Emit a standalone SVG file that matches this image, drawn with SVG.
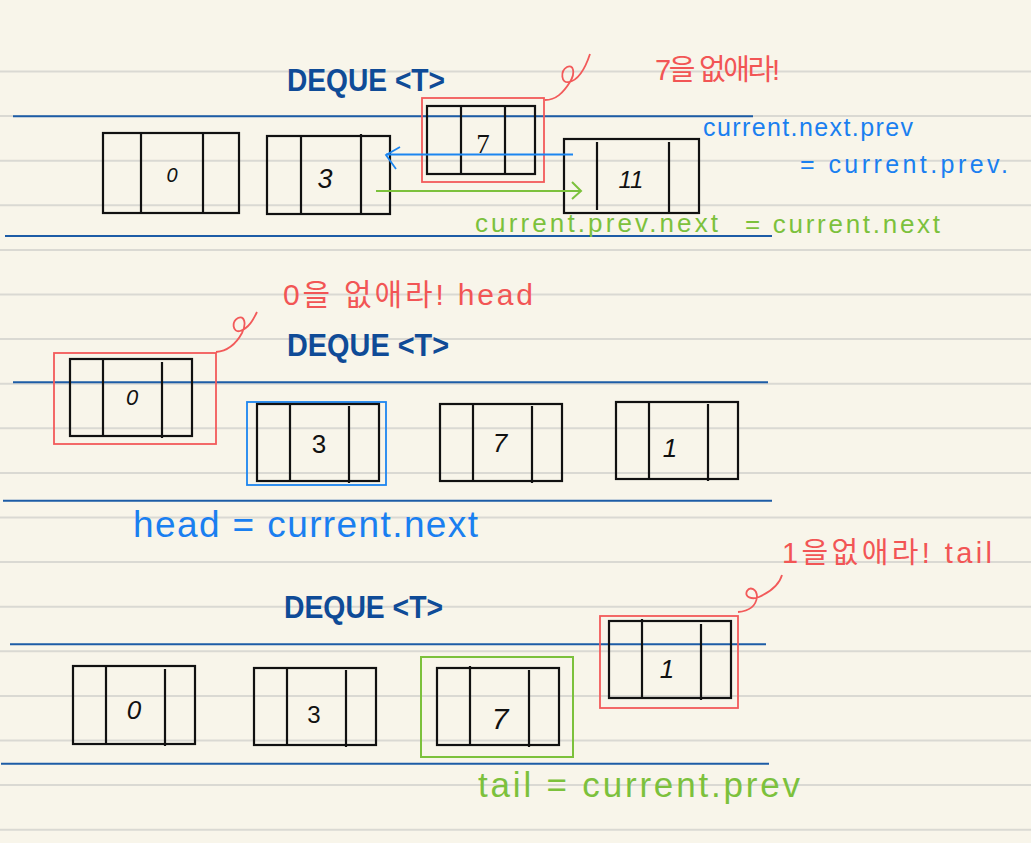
<svg xmlns="http://www.w3.org/2000/svg" width="1031" height="843" viewBox="0 0 1031 843">
<style>
.rule{stroke:#dad9d3;stroke-width:2}
.bl{stroke:#1d5ca6;stroke-width:2}
.box{fill:none;stroke:#111;stroke-width:2.2}
.div{stroke:#111;stroke-width:2.2}
.num{font-family:"Liberation Sans",sans-serif;font-size:24px;fill:#111;text-anchor:middle;font-style:italic}
.ttl{font-family:"Liberation Sans",sans-serif;font-weight:bold;font-size:31px;fill:#0f4b97}
.red{fill:none;stroke:#f25a5a;stroke-width:1.8}
.blu{fill:none;stroke:#1c86f0;stroke-width:1.8}
.grn{fill:none;stroke:#7cc13c;stroke-width:2}
.tb{font-family:"Liberation Sans",sans-serif;fill:#1a7ff0}
.tg{font-family:"Liberation Sans",sans-serif;fill:#7cc13c}
.tr{font-family:"Liberation Sans","Noto Sans CJK KR",sans-serif;fill:#f25555}
</style>
<rect width="1031" height="843" fill="#f8f5ea"/>
<g id="paper">
<line class="rule" x1="0" y1="71.5" x2="1031" y2="71.5"/>
<line class="rule" x1="0" y1="116.1" x2="1031" y2="116.1"/>
<line class="rule" x1="0" y1="160.7" x2="1031" y2="160.7"/>
<line class="rule" x1="0" y1="205.3" x2="1031" y2="205.3"/>
<line class="rule" x1="0" y1="249.9" x2="1031" y2="249.9"/>
<line class="rule" x1="0" y1="294.5" x2="1031" y2="294.5"/>
<line class="rule" x1="0" y1="339.1" x2="1031" y2="339.1"/>
<line class="rule" x1="0" y1="383.7" x2="1031" y2="383.7"/>
<line class="rule" x1="0" y1="428.3" x2="1031" y2="428.3"/>
<line class="rule" x1="0" y1="472.9" x2="1031" y2="472.9"/>
<line class="rule" x1="0" y1="517.5" x2="1031" y2="517.5"/>
<line class="rule" x1="0" y1="562.1" x2="1031" y2="562.1"/>
<line class="rule" x1="0" y1="606.7" x2="1031" y2="606.7"/>
<line class="rule" x1="0" y1="651.3" x2="1031" y2="651.3"/>
<line class="rule" x1="0" y1="695.9" x2="1031" y2="695.9"/>
<line class="rule" x1="0" y1="740.5" x2="1031" y2="740.5"/>
<line class="rule" x1="0" y1="785.1" x2="1031" y2="785.1"/>
<line class="rule" x1="0" y1="829.7" x2="1031" y2="829.7"/>
<line class="bl" x1="13" y1="116.3" x2="753" y2="116.3"/>
<line class="bl" x1="5" y1="236" x2="772" y2="236"/>
<line class="bl" x1="13" y1="382.3" x2="768" y2="382.3"/>
<line class="bl" x1="3" y1="500.7" x2="772" y2="500.7"/>
<line class="bl" x1="10" y1="644.3" x2="766" y2="644.3"/>
<line class="bl" x1="1" y1="763.7" x2="769" y2="763.7"/>
</g>

<g id="titles">
<text class="ttl" x="287" y="91" textLength="158" lengthAdjust="spacingAndGlyphs">DEQUE &lt;T&gt;</text>
<text class="ttl" x="287" y="356" textLength="162" lengthAdjust="spacingAndGlyphs">DEQUE &lt;T&gt;</text>
<text class="ttl" x="284" y="618" textLength="159" lengthAdjust="spacingAndGlyphs">DEQUE &lt;T&gt;</text>
</g>

<!-- Section 1 -->
<g id="s1-node-0">
<rect class="box" x="103" y="133" width="136" height="80"/>
<line class="div" x1="141" y1="133" x2="141" y2="213"/>
<line class="div" x1="203" y1="133" x2="203" y2="213"/>
<text class="num" x="172" y="182" style="font-size:20px">0</text>
</g>
<g id="s1-node-3">
<rect class="box" x="267" y="136" width="123" height="78"/>
<line class="div" x1="301" y1="136" x2="301" y2="214"/>
<line class="div" x1="361" y1="134" x2="361" y2="214"/>
<text class="num" x="325" y="188" style="font-size:27px">3</text>
</g>
<g id="s1-node-7">
<rect class="red" x="422" y="98" width="122" height="84"/>
<rect class="box" x="427" y="106" width="108" height="68"/>
<line class="div" x1="461" y1="106" x2="461" y2="174"/>
<line class="div" x1="505" y1="106" x2="505" y2="174"/>
<text class="num" x="483" y="153" style="font-family:'Liberation Serif',serif;font-style:normal;font-size:27px">7</text>
</g>
<g id="s1-node-11">
<rect class="box" x="564" y="139" width="135" height="74"/>
<line class="div" x1="597" y1="142" x2="597" y2="210"/>
<line class="div" x1="669" y1="142" x2="669" y2="213"/>
<text class="num" x="631" y="188" style="font-size:24px">11</text>
</g>

<!-- Section 2 -->
<g id="s2-node-0">
<rect class="red" x="54" y="353" width="162" height="91"/>
<rect class="box" x="70" y="359" width="122" height="77"/>
<line class="div" x1="103" y1="358" x2="103" y2="436"/>
<line class="div" x1="162" y1="362" x2="162" y2="438"/>
<text class="num" x="132" y="405" style="font-size:22px">0</text>
</g>
<g id="s2-node-3">
<rect class="blu" x="247" y="402" width="139" height="83"/>
<rect class="box" x="257" y="404" width="122" height="77"/>
<line class="div" x1="290" y1="403" x2="290" y2="481"/>
<line class="div" x1="349" y1="406" x2="349" y2="483"/>
<text class="num" x="319" y="453" style="font-style:normal;font-size:26px">3</text>
</g>
<g id="s2-node-7">
<rect class="box" x="440" y="404" width="122" height="77"/>
<line class="div" x1="473" y1="403" x2="473" y2="481"/>
<line class="div" x1="532" y1="406" x2="532" y2="483"/>
<text class="num" x="500" y="452" style="font-size:26px">7</text>
</g>
<g id="s2-node-1">
<rect class="box" x="616" y="402" width="122" height="77"/>
<line class="div" x1="649" y1="401" x2="649" y2="479"/>
<line class="div" x1="708" y1="404" x2="708" y2="481"/>
<text class="num" x="670" y="457" style="font-size:26px">1</text>
</g>

<!-- Section 3 -->
<g id="s3-node-0">
<rect class="box" x="73" y="666" width="122" height="78"/>
<line class="div" x1="106" y1="665" x2="106" y2="744"/>
<line class="div" x1="165" y1="669" x2="165" y2="746"/>
<text class="num" x="134" y="719" style="font-size:26px">0</text>
</g>
<g id="s3-node-3">
<rect class="box" x="254" y="668" width="122" height="77"/>
<line class="div" x1="287" y1="667" x2="287" y2="745"/>
<line class="div" x1="346" y1="670" x2="346" y2="747"/>
<text class="num" x="314" y="723" style="font-style:normal;font-size:24px">3</text>
</g>
<g id="s3-node-7">
<rect class="grn" x="421" y="657" width="152" height="100"/>
<rect class="box" x="437" y="668" width="122" height="77"/>
<line class="div" x1="470" y1="666" x2="470" y2="745"/>
<line class="div" x1="529" y1="670" x2="529" y2="747"/>
<text class="num" x="500" y="729" style="font-size:30px">7</text>
</g>
<g id="s3-node-1">
<rect class="red" x="600" y="616" width="138" height="92"/>
<rect class="box" x="609" y="621" width="122" height="77"/>
<line class="div" x1="642" y1="619" x2="642" y2="698"/>
<line class="div" x1="701" y1="624" x2="701" y2="700"/>
<text class="num" x="667" y="678" style="font-size:26px">1</text>
</g>

<g id="connectors">
<line class="blu" x1="573" y1="154.5" x2="386" y2="154.5"/>
<polyline class="blu" points="400,147 386,155 396,169"/>
<line class="grn" x1="376" y1="191" x2="580" y2="191"/>
<polyline class="grn" points="572,182 581,191 572,199"/>
<path class="red" d="M545,100 C556,100 563,93 570,82 C576,72 573,64 567,67 C560,71 561,84 569,82 C579,80 586,66 590,54"/>
<path class="red" d="M216,352 C228,351 236,344 242,333 C247,323 244,315 238,318 C231,322 233,333 240,331 C249,328 253,320 257,312"/>
<path class="red" d="M738,612 C750,611 756,605 757,597 C757,589 750,586 747,591 C744,597 752,600 759,597 C770,592 779,586 782,575"/>
</g>

<g id="labels">
<text class="tr" x="655" y="80" font-size="29" textLength="125">7을 없애라!</text>
<text class="tb" x="703" y="136" font-size="25" textLength="210">current.next.prev</text>
<text class="tb" x="800" y="173" font-size="25" textLength="208">= current.prev.</text>
<text class="tg" x="475" y="232" font-size="26" textLength="243">current.prev.next</text>
<text class="tg" x="745" y="233" font-size="26" textLength="195">= current.next</text>
<text class="tr" x="283" y="305" font-size="30" textLength="250">0을 없애라! head</text>
<text class="tb" x="133" y="537" font-size="37" textLength="345">head = current.next</text>
<text class="tr" x="782" y="563" font-size="29" textLength="210">1을없애라! tail</text>
<text class="tg" x="478" y="797" font-size="35" textLength="322">tail = current.prev</text>
</g>
</svg>
